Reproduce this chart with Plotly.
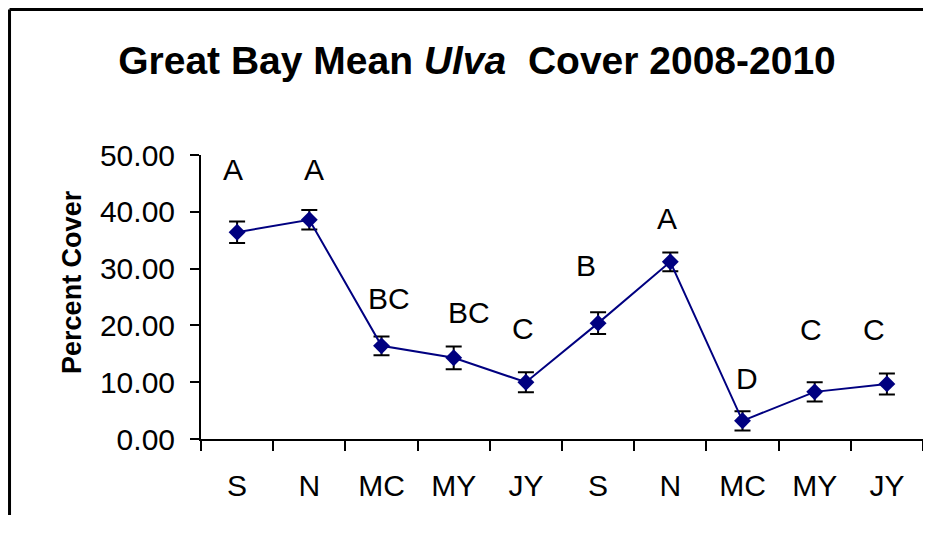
import plotly.graph_objects as go

# ------------------ data ------------------
months = ["S", "N", "MC", "MY", "JY", "S", "N", "MC", "MY", "JY"]
mean_cover = [36.4, 38.6, 16.4, 14.3, 10.0, 20.4, 31.2, 3.2, 8.3, 9.7]
std_err = [1.9, 1.7, 1.65, 2.0, 1.75, 1.9, 1.65, 1.7, 1.7, 1.85]

# significance letters and where they sit (data units)
letters = ["A", "A", "BC", "BC", "C", "B", "A", "D", "C", "C"]
letter_x = [-0.06, 1.07, 2.10, 3.21, 3.96, 4.83, 5.95, 7.06, 7.95, 8.82]
letter_y = [47.4, 47.4, 24.8, 22.2, 19.5, 30.5, 38.9, 10.7, 19.2, 19.2]

y_ticks = [0, 10, 20, 30, 40, 50]

FONT = "Liberation Sans, Arial, sans-serif"
NAVY = "#000080"

fig = go.Figure()

fig.add_trace(go.Scatter(
    x=list(range(len(months))),
    y=mean_cover,
    mode="lines+markers",
    line=dict(color=NAVY, width=2),
    marker=dict(symbol="diamond", size=13, color=NAVY),
    error_y=dict(type="data", array=std_err, color="black", thickness=2, width=8),
    showlegend=False,
))

for txt, lx, ly in zip(letters, letter_x, letter_y):
    fig.add_annotation(x=lx, y=ly, text=txt, showarrow=False,
                       font=dict(family=FONT, size=30, color="black"))

# y axis title placed by hand
fig.add_annotation(xref="paper", yref="paper", x=-0.1787, y=0.553,
                   xanchor="center", yanchor="middle",
                   text="<b>Percent Cover</b>", textangle=-90, showarrow=False,
                   font=dict(family=FONT, size=27, color="black"))

# outer chart frame: only its left and top edges are inside the picture
frame = dict(color="black", width=3)
fig.add_shape(type="line", xref="paper", yref="paper",
              x0=-0.2652, x1=-0.2652, y0=-0.6, y1=1.5123, line=frame)
fig.add_shape(type="line", xref="paper", yref="paper",
              x0=-0.2652, x1=1.02, y0=1.5123, y1=1.5123, line=frame)

# page body has an 8px margin, so the figure is sized/offset to fit the window
fig.update_layout(
    width=915, height=507,
    margin=dict(l=193, r=0, t=147, b=76),
    paper_bgcolor="white", plot_bgcolor="white",
    font=dict(family=FONT, color="black"),
    title=dict(
        text="<b>Great Bay Mean <i>Ulva</i>  Cover 2008-2010</b>",
        x=469 / 915, xref="container", xanchor="center",
        y=1 - 52 / 507, yref="container", yanchor="middle",
        font=dict(family=FONT, size=39, color="black"),
    ),
)

fig.update_xaxes(
    range=[-0.5, 9.5],
    tickvals=list(range(len(months))), ticktext=months,
    ticks="", ticklabelstandoff=19,
    tickfont=dict(family=FONT, size=30, color="black"),
    minor=dict(tick0=-0.5, dtick=1, ticks="outside", ticklen=10,
               tickwidth=2, tickcolor="black", showgrid=False),
    showline=True, linecolor="black", linewidth=2,
    showgrid=False, zeroline=False,
)

fig.update_yaxes(
    range=[0, 50],
    tickvals=y_ticks, ticktext=[f"{v:.2f}" for v in y_ticks],
    ticks="outside", ticklen=9, tickwidth=2, tickcolor="black",
    ticklabelstandoff=9,
    tickfont=dict(family=FONT, size=30, color="black"),
    showline=True, linecolor="black", linewidth=2,
    showgrid=False, zeroline=False,
)

fig.write_html("out.html", config={"displayModeBar": False})
